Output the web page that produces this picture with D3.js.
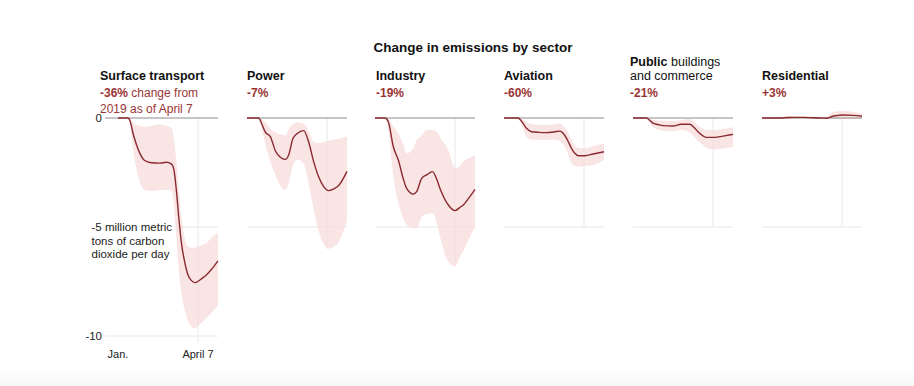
<!DOCTYPE html>
<html>
<head>
<meta charset="utf-8">
<script src="https://cdn.jsdelivr.net/npm/d3@7"></script>
<style>
  html, body { margin: 0; padding: 0; background: #fff; }
  svg { display: block; font-family: "Liberation Sans", Arial, sans-serif; }
</style>
</head>
<body>
<div id="chart"></div>
<script>
// days since Jan. 1, values in million metric tons of CO2 per day
const sectors = ['Surface transport', 'Power', 'Industry', 'Aviation', 'Public buildings and commerce', 'Residential'];
const changes = ['-36%', '-7%', '-19%', '-60%', '-21%', '+3%'];

const transportDays = [0, 12, 15, 18, 22, 26, 32, 40, 50, 58, 64, 67, 70, 73, 76, 80, 84, 88, 92, 96, 100, 106, 112, 120];
const transportMid = [0, 0, -0.2, -0.7, -1.2, -1.6, -1.95, -2.05, -2.07, -2.03, -2.1, -2.35, -3.3, -4.6, -5.7, -6.6, -7.2, -7.45, -7.55, -7.5, -7.38, -7.2, -6.95, -6.55];
const transportLow = [0, 0, -0.4, -1.4, -2.3, -2.9, -3.3, -3.35, -3.3, -3.3, -3.3, -4.0, -5.5, -7.0, -8.0, -8.8, -9.3, -9.55, -9.65, -9.55, -9.4, -9.2, -8.95, -8.6];
const transportHigh = [0, 0, 0, -0.2, -0.3, -0.35, -0.4, -0.35, -0.3, -0.35, -0.45, -0.9, -2.0, -3.3, -4.5, -5.5, -5.9, -5.95, -5.95, -5.9, -5.85, -5.75, -5.5, -5.25];

const powerDays = [0, 14, 18, 22, 28, 34, 40, 46, 50, 55, 60, 68, 74, 80, 86, 92, 98, 104, 110, 120];
const powerMid = [0, 0, -0.3, -0.65, -0.85, -1.5, -1.8, -1.9, -1.7, -0.95, -0.72, -0.58, -1.1, -2.0, -2.7, -3.15, -3.33, -3.25, -3.1, -2.45];
const powerLow = [0, 0, -0.6, -1.2, -2.0, -2.6, -3.1, -3.3, -3.0, -2.2, -1.9, -2.1, -3.0, -4.2, -5.2, -5.8, -6.0, -5.9, -5.7, -4.7];
const powerHigh = [0, 0, -0.05, -0.2, -0.5, -0.65, -0.75, -0.8, -0.5, -0.3, -0.2, -0.25, -0.6, -1.1, -1.15, -1.1, -1.05, -1.0, -0.95, -0.85];

const industryDays = [0, 12, 16, 22, 28, 34, 38, 46, 50, 56, 62, 69, 74, 78, 88, 96, 102, 106, 112, 120];
const industryMid = [0, 0, -0.17, -1.32, -1.93, -2.8, -3.23, -3.49, -3.38, -2.77, -2.61, -2.46, -2.8, -3.23, -3.99, -4.25, -4.1, -3.99, -3.7, -3.27];
const industryLow = [0, 0, -0.6, -2.69, -3.9, -4.6, -4.9, -5.05, -5.06, -4.53, -4.4, -4.37, -4.8, -5.44, -6.59, -6.8, -6.36, -6.1, -5.6, -4.99];
const industryHigh = [0, 0, -0.05, -0.4, -0.7, -1.2, -1.62, -1.4, -1.0, -0.8, -0.55, -0.55, -0.63, -0.9, -1.47, -2.31, -2.2, -2.0, -1.85, -1.7];

const aviationDays = [0, 17, 22, 27, 33, 42, 51, 60, 67, 71, 76, 81, 85, 89, 97, 107, 120];
const aviationMid = [0, 0, -0.2, -0.47, -0.63, -0.66, -0.67, -0.64, -0.6, -0.7, -1.0, -1.39, -1.62, -1.73, -1.73, -1.65, -1.55];
const aviationLow = [0, 0, -0.4, -0.86, -1.0, -1.0, -1.0, -1.0, -1.05, -1.2, -1.55, -2.08, -2.2, -2.23, -2.2, -2.15, -1.93];
const aviationHigh = [0, 0, -0.05, -0.2, -0.28, -0.32, -0.32, -0.3, -0.25, -0.35, -0.6, -1.0, -1.25, -1.38, -1.39, -1.3, -1.16];

const publicDays = [0, 16, 20, 24, 30, 36, 48, 58, 68, 73, 78, 84, 88, 98, 108, 120];
const publicMid = [0, 0, -0.1, -0.24, -0.3, -0.35, -0.37, -0.29, -0.29, -0.42, -0.63, -0.82, -0.89, -0.89, -0.83, -0.75];
const publicLow = [0, 0, -0.2, -0.43, -0.52, -0.58, -0.6, -0.55, -0.66, -0.85, -1.05, -1.24, -1.38, -1.44, -1.4, -1.33];
const publicHigh = [0, 0, -0.03, -0.08, -0.1, -0.12, -0.15, -0.1, -0.05, -0.15, -0.35, -0.48, -0.55, -0.55, -0.5, -0.43];

const residentialDays = [0, 23, 30, 38, 50, 62, 70, 78, 82, 86, 92, 98, 110, 120];
const residentialMid = [0, 0, 0.02, 0.03, 0.03, 0.01, 0, -0.01, 0.04, 0.09, 0.12, 0.14, 0.12, 0.08];
const residentialLow = [0, -0.03, -0.03, -0.03, -0.03, -0.05, -0.05, -0.06, -0.05, -0.05, -0.06, -0.06, -0.06, -0.05];
const residentialHigh = [0, 0.04, 0.07, 0.08, 0.08, 0.07, 0.06, 0.08, 0.2, 0.29, 0.31, 0.32, 0.28, 0.2];

const aprilSeven = 96;
const xTicks = [0, aprilSeven];
const xTickLabels = ['Jan.', 'April 7'];
const yTicks = [0, -5, -10];

const seriesDays = [transportDays, powerDays, industryDays, aviationDays, publicDays, residentialDays];
const seriesMid = [transportMid, powerMid, industryMid, aviationMid, publicMid, residentialMid];
const seriesLow = [transportLow, powerLow, industryLow, aviationLow, publicLow, residentialLow];
const seriesHigh = [transportHigh, powerHigh, industryHigh, aviationHigh, publicHigh, residentialHigh];

const width = 914, height = 386;
const panelX = [118, 247, 375, 504, 633, 762];
const headX = [100, 247, 376, 504, 630, 762];
const plotW = 100;
const zeroY = 118;
const unitPx = 21.8;
const red = '#9b3535';
const lineColor = '#8a2a2e';

const svg = d3.select('#chart').append('svg')
  .attr('width', width)
  .attr('height', height);

// faint gray strip at the bottom of the page
const grad = svg.append('defs').append('linearGradient')
  .attr('id', 'fade').attr('x1', 0).attr('y1', 0).attr('x2', 0).attr('y2', 1);
grad.append('stop').attr('offset', '0%').attr('stop-color', '#ffffff');
grad.append('stop').attr('offset', '100%').attr('stop-color', '#f7f7f7');
svg.append('rect').attr('x', 0).attr('y', 370).attr('width', width).attr('height', 16).attr('fill', 'url(#fade)');

svg.append('text')
  .attr('x', 473).attr('y', 52)
  .attr('text-anchor', 'middle')
  .style('font-size', '13.5px').style('font-weight', 'bold').style('fill', '#111')
  .text('Change in emissions by sector');

const x = d3.scaleLinear().domain([0, 120]);
const y = d3.scaleLinear().domain([0, -10]).range([zeroY, zeroY + 10 * unitPx]);

sectors.forEach((name, i) => {
  const days = seriesDays[i];
  const pts = days.map((d, j) => ({ d, v: seriesMid[i][j], lo: seriesLow[i][j], hi: seriesHigh[i][j] }));
  const px = x.copy().range([panelX[i], panelX[i] + plotW]);
  const g = svg.append('g');
  const bottom = i === 0 ? -10.3 : Math.min(-5, d3.min(seriesLow[i]));

  // gridlines
  yTicks.filter(t => t < 0 && t >= bottom).forEach(t => {
    g.append('line')
      .attr('x1', i === 0 ? 105 : px(0)).attr('x2', px(120))
      .attr('y1', y(t)).attr('y2', y(t))
      .attr('stroke', '#e8e8e8').attr('stroke-width', 1);
  });
  g.append('line')
    .attr('x1', px(aprilSeven)).attr('x2', px(aprilSeven))
    .attr('y1', y(0)).attr('y2', y(bottom))
    .attr('stroke', '#e8e8e8').attr('stroke-width', 1);

  // uncertainty band
  g.append('path')
    .datum(pts)
    .attr('fill', '#f8dada')
    .attr('fill-opacity', 0.7)
    .attr('d', d3.area().curve(d3.curveMonotoneX)
      .x(p => px(p.d)).y0(p => y(p.lo)).y1(p => y(p.hi)));

  // zero line
  g.append('line')
    .attr('x1', i === 0 ? 105 : px(0)).attr('x2', px(120))
    .attr('y1', y(0)).attr('y2', y(0))
    .attr('stroke', '#8c8c8c').attr('stroke-width', 1);

  g.append('path')
    .datum(pts)
    .attr('fill', 'none')
    .attr('stroke', lineColor)
    .attr('stroke-width', 1.4)
    .attr('d', d3.line().curve(d3.curveMonotoneX).x(p => px(p.d)).y(p => y(p.v)));

  // headers
  const head = g.append('text').attr('x', headX[i]).style('font-size', '12.5px').style('fill', '#111');
  if (name.startsWith('Public')) {
    head.attr('y', 66);
    head.append('tspan').style('font-weight', 'bold').text('Public');
    head.append('tspan').text(' buildings');
    g.append('text').attr('x', headX[i]).attr('y', 80)
      .style('font-size', '12.5px').style('fill', '#111').text('and commerce');
  } else {
    head.attr('y', 80).style('font-weight', 'bold').text(name);
  }

  const sub = g.append('text').attr('x', headX[i]).attr('y', 97)
    .style('font-size', '12px').style('fill', red);
  sub.append('tspan').style('font-weight', 'bold').text(changes[i]);
  if (i === 0) {
    sub.append('tspan').text(' change from');
    g.append('text').attr('x', headX[i]).attr('y', 112.5)
      .style('font-size', '12px').style('fill', red).text('2019 as of April 7');
  }

  if (i === 0) {
    // y axis labels
    const yAxis = g.append('g');
    yTicks.filter(t => t !== -5).forEach(t => {
      yAxis.append('text')
        .attr('x', 102).attr('y', y(t)).attr('dy', '0.35em')
        .attr('text-anchor', 'end')
        .style('font-size', '11.5px').style('fill', '#222')
        .text(t);
    });
    const unitLines = ['-5 million metric', 'tons of carbon', 'dioxide per day'];
    unitLines.forEach((s, k) => {
      yAxis.append('text')
        .attr('x', 91.5).attr('y', y(-5) + k * 13.5).attr('dy', '0.35em')
        .style('font-size', '11.5px').style('fill', '#222')
        .attr('stroke', '#fff').attr('stroke-width', 4).attr('paint-order', 'stroke')
        .text(s);
    });
    // x axis labels
    xTicks.forEach((t, k) => {
      g.append('text')
        .attr('x', px(t)).attr('y', 358)
        .attr('text-anchor', 'middle')
        .style('font-size', '11px').style('fill', '#222')
        .text(xTickLabels[k]);
    });
  }
});
</script>
</body>
</html>
